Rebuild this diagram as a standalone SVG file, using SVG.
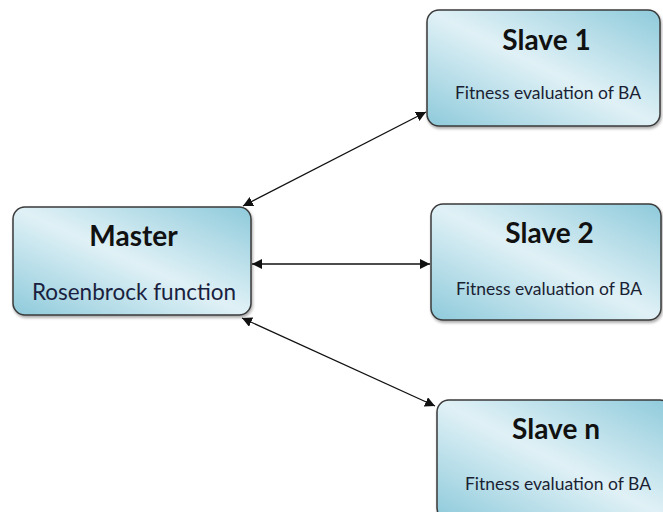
<svg xmlns="http://www.w3.org/2000/svg" width="663" height="512" viewBox="0 0 663 512">
<defs>
<linearGradient id="fill" x1="1" y1="0" x2="0" y2="1">
<stop offset="0" stop-color="#8ecadb"/>
<stop offset="0.5" stop-color="#e0f1f6"/>
<stop offset="1" stop-color="#8ecadb"/>
</linearGradient>
<filter id="sh" x="-5%" y="-5%" width="115%" height="115%">
<feGaussianBlur in="SourceAlpha" stdDeviation="1.5"/>
<feOffset dx="1" dy="2" result="b"/>
<feComponentTransfer><feFuncA type="linear" slope="0.35"/></feComponentTransfer>
<feMerge><feMergeNode/><feMergeNode in="SourceGraphic"/></feMerge>
</filter>
<marker id="ah" viewBox="0 0 10 10" refX="10" refY="5" markerWidth="10" markerHeight="10" markerUnits="userSpaceOnUse" orient="auto-start-reverse">
<path d="M0,0 L10,5 L0,10 z" fill="#111"/>
</marker>
</defs>
<style>
.box{fill:url(#fill);stroke:#3a3a3a;stroke-width:1.5;filter:url(#sh)}
.title{font-family:Lato,"Open Sans","Liberation Sans",sans-serif;font-weight:bold;font-size:28px;fill:#111;text-anchor:middle}
.sub{font-family:Lato,"Open Sans","Liberation Sans",sans-serif;font-size:17.5px;fill:#1a1f33;text-anchor:middle}
.subm{font-family:Lato,"Open Sans","Liberation Sans",sans-serif;font-size:22.5px;fill:#1a1f40;text-anchor:middle}
.con{stroke:#111;stroke-width:1.3;fill:none;marker-start:url(#ah);marker-end:url(#ah)}
</style>
<rect width="663" height="512" fill="#fff"/>
<g id="connectors">
<line class="con" x1="243" y1="206" x2="426" y2="112"/>
<line class="con" x1="252" y1="264" x2="430" y2="264"/>
<line class="con" x1="242" y1="318" x2="435" y2="406"/>
</g>
<g id="master">
<rect class="box" x="13" y="207" width="238" height="108" rx="12"/>
<text class="title" x="133.5" y="246">Master</text>
<text class="subm" x="134" y="300">Rosenbrock function</text>
</g>
<g id="slave1">
<rect class="box" x="427" y="10" width="233" height="116" rx="12"/>
<text class="title" x="546.5" y="50">Slave 1</text>
<text class="sub" x="548" y="99">Fitness evaluation of BA</text>
</g>
<g id="slave2">
<rect class="box" x="431" y="204" width="230" height="116" rx="12"/>
<text class="title" x="549.5" y="243">Slave 2</text>
<text class="sub" x="549" y="295">Fitness evaluation of BA</text>
</g>
<g id="slaven">
<rect class="box" x="437" y="400" width="235" height="120" rx="12"/>
<text class="title" x="556" y="439">Slave n</text>
<text class="sub" x="558" y="490">Fitness evaluation of BA</text>
</g>
</svg>
